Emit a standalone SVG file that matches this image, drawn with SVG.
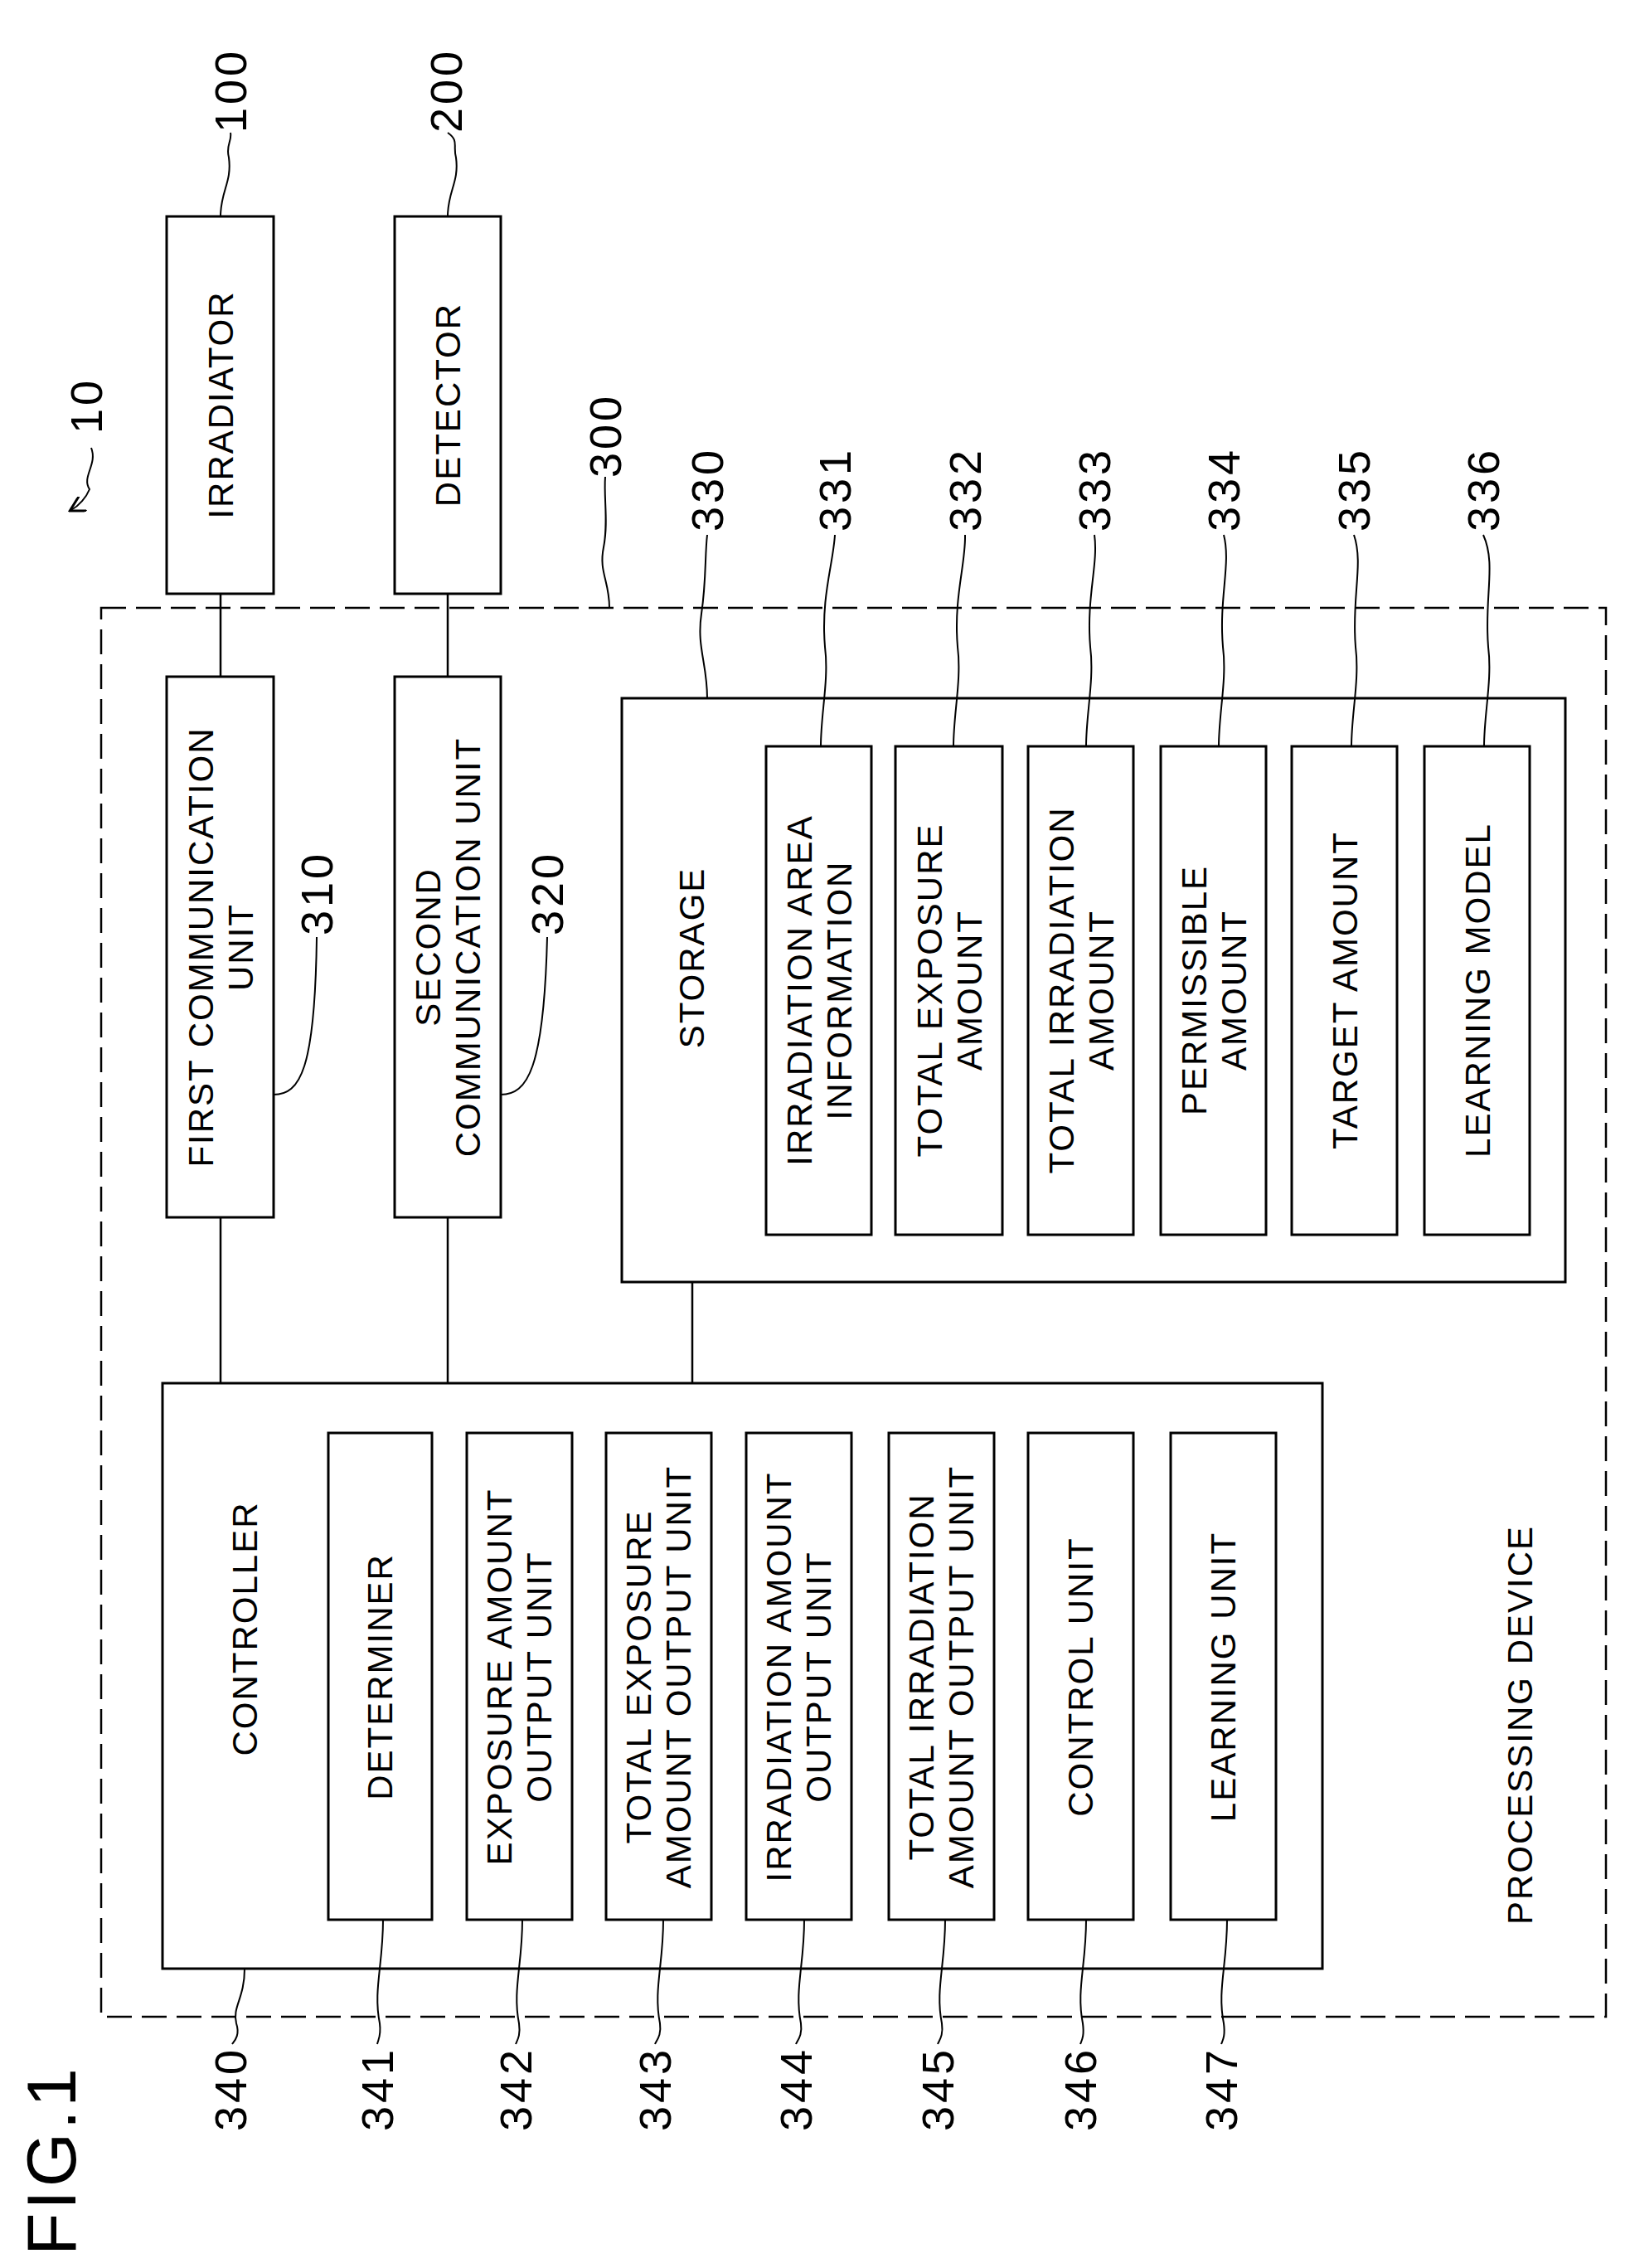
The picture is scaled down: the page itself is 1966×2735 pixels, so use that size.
<svg xmlns="http://www.w3.org/2000/svg" width="1966" height="2735" viewBox="0 0 1966 2735">
<style>
.b{fill:#fff;stroke:#000;stroke-width:3}
.l{fill:none;stroke:#000;stroke-width:2.5}
.t{font-family:"Liberation Sans",Arial,sans-serif;font-size:42px;text-anchor:middle;dominant-baseline:central;letter-spacing:2px}
.n{font-family:"Liberation Sans",Arial,sans-serif;font-size:54px;text-anchor:middle;dominant-baseline:central;letter-spacing:4px}
</style>
<defs><marker id="ah" markerWidth="10" markerHeight="10" refX="8" refY="5" orient="auto"><path d="M0,0 L9,5 L0,10" fill="none" stroke="#000" stroke-width="1.5"/></marker></defs>
<rect width="1966" height="2735" fill="#fff"/>
<g id="n300"><rect x="122" y="733" width="1815" height="1699" fill="none" stroke="#000" stroke-width="2.5" stroke-dasharray="30 12"/>
<text class="t" transform="translate(1833,2080) rotate(-90)">PROCESSING DEVICE</text></g>
<g id="connectors">
<path class="l" d="M266,716 V816 M540,716 V816 M266,1468 V1668 M540,1468 V1668 M835,1546 V1668"/>
</g>
<g id="n100"><rect class="b" x="201" y="261" width="129" height="455"/><text class="t" transform="translate(266,488) rotate(-90)">IRRADIATOR</text></g>
<g id="n200"><rect class="b" x="476" y="261" width="128" height="455"/><text class="t" transform="translate(540,488) rotate(-90)">DETECTOR</text></g>
<g id="n310"><rect class="b" x="201" y="816" width="129" height="652"/><text class="t" transform="translate(266,1142) rotate(-90)"><tspan x="0" y="-24">FIRST COMMUNICATION</tspan><tspan x="0" y="24">UNIT</tspan></text></g>
<g id="n320"><rect class="b" x="476" y="816" width="128" height="652"/><text class="t" transform="translate(540,1142) rotate(-90)"><tspan x="0" y="-24">SECOND</tspan><tspan x="0" y="24">COMMUNICATION UNIT</tspan></text></g>
<g id="n330"><rect class="b" x="750" y="842" width="1138" height="704"/><text class="t" transform="translate(834,1155) rotate(-90)">STORAGE</text></g>
<g id="n331"><rect class="b" x="924" y="900" width="127" height="589"/><text class="t" transform="translate(988,1194) rotate(-90)"><tspan x="0" y="-24">IRRADIATION AREA</tspan><tspan x="0" y="24">INFORMATION</tspan></text></g>
<g id="n332"><rect class="b" x="1080" y="900" width="129" height="589"/><text class="t" transform="translate(1145,1194) rotate(-90)"><tspan x="0" y="-24">TOTAL EXPOSURE</tspan><tspan x="0" y="24">AMOUNT</tspan></text></g>
<g id="n333"><rect class="b" x="1240" y="900" width="127" height="589"/><text class="t" transform="translate(1304,1194) rotate(-90)"><tspan x="0" y="-24">TOTAL IRRADIATION</tspan><tspan x="0" y="24">AMOUNT</tspan></text></g>
<g id="n334"><rect class="b" x="1400" y="900" width="127" height="589"/><text class="t" transform="translate(1464,1194) rotate(-90)"><tspan x="0" y="-24">PERMISSIBLE</tspan><tspan x="0" y="24">AMOUNT</tspan></text></g>
<g id="n335"><rect class="b" x="1558" y="900" width="127" height="589"/><text class="t" transform="translate(1622,1194) rotate(-90)">TARGET AMOUNT</text></g>
<g id="n336"><rect class="b" x="1718" y="900" width="127" height="589"/><text class="t" transform="translate(1782,1194) rotate(-90)">LEARNING MODEL</text></g>
<g id="n340"><rect class="b" x="196" y="1668" width="1399" height="706"/><text class="t" transform="translate(295,1964) rotate(-90)">CONTROLLER</text></g>
<g id="n341"><rect class="b" x="396" y="1728" width="125" height="587"/><text class="t" transform="translate(458,2022) rotate(-90)">DETERMINER</text></g>
<g id="n342"><rect class="b" x="563" y="1728" width="127" height="587"/><text class="t" transform="translate(626,2022) rotate(-90)"><tspan x="0" y="-24">EXPOSURE AMOUNT</tspan><tspan x="0" y="24">OUTPUT UNIT</tspan></text></g>
<g id="n343"><rect class="b" x="731" y="1728" width="127" height="587"/><text class="t" transform="translate(794,2022) rotate(-90)"><tspan x="0" y="-24">TOTAL EXPOSURE</tspan><tspan x="0" y="24">AMOUNT OUTPUT UNIT</tspan></text></g>
<g id="n344"><rect class="b" x="900" y="1728" width="127" height="587"/><text class="t" transform="translate(963,2022) rotate(-90)"><tspan x="0" y="-24">IRRADIATION AMOUNT</tspan><tspan x="0" y="24">OUTPUT UNIT</tspan></text></g>
<g id="n345"><rect class="b" x="1072" y="1728" width="127" height="587"/><text class="t" transform="translate(1135,2022) rotate(-90)"><tspan x="0" y="-24">TOTAL IRRADIATION</tspan><tspan x="0" y="24">AMOUNT OUTPUT UNIT</tspan></text></g>
<g id="n346"><rect class="b" x="1240" y="1728" width="127" height="587"/><text class="t" transform="translate(1303,2022) rotate(-90)">CONTROL UNIT</text></g>
<g id="n347"><rect class="b" x="1412" y="1728" width="127" height="587"/><text class="t" transform="translate(1475,2022) rotate(-90)">LEARNING UNIT</text></g>
<g id="labels">
<text class="n" transform="translate(278,109) rotate(-90)">100</text>
<text class="n" transform="translate(538,109) rotate(-90)">200</text>
<text class="n" transform="translate(104,489) rotate(-90)">10</text>
<text class="n" transform="translate(730,525) rotate(-90)">300</text>
<text class="n" transform="translate(853,590) rotate(-90)">330</text>
<text class="n" transform="translate(1007,590) rotate(-90)">331</text>
<text class="n" transform="translate(1164,590) rotate(-90)">332</text>
<text class="n" transform="translate(1320,590) rotate(-90)">333</text>
<text class="n" transform="translate(1476,590) rotate(-90)">334</text>
<text class="n" transform="translate(1633,590) rotate(-90)">335</text>
<text class="n" transform="translate(1789,590) rotate(-90)">336</text>
<text class="n" transform="translate(382,1077) rotate(-90)">310</text>
<text class="n" transform="translate(660,1077) rotate(-90)">320</text>
<text class="n" transform="translate(278,2519) rotate(-90)">340</text>
<text class="n" transform="translate(455,2519) rotate(-90)">341</text>
<text class="n" transform="translate(622,2519) rotate(-90)">342</text>
<text class="n" transform="translate(790,2519) rotate(-90)">343</text>
<text class="n" transform="translate(960,2519) rotate(-90)">344</text>
<text class="n" transform="translate(1131,2519) rotate(-90)">345</text>
<text class="n" transform="translate(1303,2519) rotate(-90)">346</text>
<text class="n" transform="translate(1473,2519) rotate(-90)">347</text>
<text transform="translate(62,2605) rotate(-90)" font-family="Liberation Sans,Arial,sans-serif" font-size="84" text-anchor="middle" dominant-baseline="central" letter-spacing="4">FIG.1</text>
</g>
<g id="leaders" fill="none" stroke="#000" stroke-width="2">
<path d="M266,261 C266,230 280,220 276,190 C272,175 280,170 278,160"/>
<path d="M540,261 C540,230 554,220 550,190 C546,175 554,170 540,160"/>
<path d="M110,540 C118,560 98,575 108,590 C104,600 95,610 86,615" marker-end="url(#ah)"/>
<path d="M735,733 C735,700 722,690 728,660 C734,630 728,600 730,575"/>
<path d="M853,842 C853,800 840,780 846,740 C852,700 850,670 853,645"/>
<path d="M990,900 C990,860 1000,820 995,780 C990,720 1005,680 1007,645"/>
<path d="M1150,900 C1150,860 1160,820 1155,780 C1150,720 1165,680 1164,645"/>
<path d="M1310,900 C1310,860 1320,820 1315,780 C1310,720 1325,680 1320,645"/>
<path d="M1470,900 C1470,860 1480,820 1475,780 C1470,720 1485,680 1476,645"/>
<path d="M1630,900 C1630,860 1640,820 1635,780 C1630,720 1645,680 1633,645"/>
<path d="M1790,900 C1790,860 1800,820 1795,780 C1790,720 1805,680 1789,645"/>
<path d="M330,1320 C362,1320 380,1290 382,1130"/>
<path d="M604,1320 C636,1320 656,1290 660,1130"/>
<path d="M295,2374 C295,2410 280,2420 285,2440 C290,2455 282,2462 280,2465"/>
<path d="M462,2315 C462,2370 450,2400 458,2440 C460,2455 456,2460 455,2465"/>
<path d="M630,2315 C630,2370 618,2400 626,2440 C628,2455 624,2460 622,2465"/>
<path d="M800,2315 C800,2370 788,2400 796,2440 C798,2455 792,2460 790,2465"/>
<path d="M970,2315 C970,2370 958,2400 966,2440 C968,2455 962,2460 960,2465"/>
<path d="M1140,2315 C1140,2370 1128,2400 1136,2440 C1138,2455 1133,2460 1131,2465"/>
<path d="M1310,2315 C1310,2370 1298,2400 1306,2440 C1308,2455 1305,2460 1303,2465"/>
<path d="M1480,2315 C1480,2370 1468,2400 1476,2440 C1478,2455 1475,2460 1473,2465"/>
</g>
</svg>
